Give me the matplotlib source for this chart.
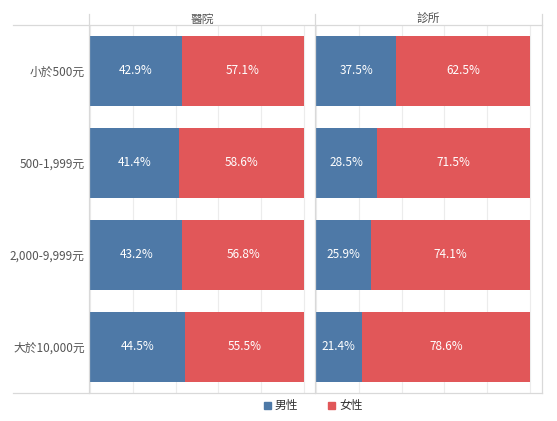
import matplotlib
matplotlib.use("Agg")
import matplotlib.pyplot as plt
from matplotlib.lines import Line2D
from matplotlib.patches import Rectangle

plt.rcParams['font.family'] = ['Noto Sans CJK TC', 'DejaVu Sans']

categories = ["小於500元", "500-1,999元", "2,000-9,999元", "大於10,000元"]
panels = ["醫院", "診所"]
male_hospital = [42.9, 41.4, 43.2, 44.5]
female_hospital = [57.1, 58.6, 56.8, 55.5]
male_clinic = [37.5, 28.5, 25.9, 21.4]
female_clinic = [62.5, 71.5, 74.1, 78.6]
series_names = ["男性", "女性"]

BLUE = "#4e79a7"
RED = "#e15759"
GRID = "#ececec"
LINE = "#d9d9d9"
TXT = "#555555"

W, H = 557, 421
fig = plt.figure(figsize=(W / 100, H / 100), dpi=100)

def fx(px):
    return px / W

def fy(py):
    return 1 - py / H

top_px, bot_px = 25, 393
ax_specs = [(89, 315, -0.47, 105.1), (315, 542, -0.47, 105.6)]
data = [(male_hospital, female_hospital), (male_clinic, female_clinic)]

ypos = list(range(len(categories)))
for i, ((l, r, x0, x1), (m, f)) in enumerate(zip(ax_specs, data)):
    ax = fig.add_axes([fx(l), fy(bot_px), fx(r) - fx(l), fy(top_px) - fy(bot_px)])
    ax.set_xlim(x0, x1)
    ax.set_ylim(len(categories) - 0.5, -0.5)
    for g in [0, 20, 40, 60, 80, 100]:
        ax.axvline(g, color=GRID, lw=0.8, zorder=0)
    ax.barh(ypos, m, height=0.76, color=BLUE, zorder=2)
    ax.barh(ypos, f, left=m, height=0.76, color=RED, zorder=2)
    for y, mv, fv in zip(ypos, m, f):
        ax.text(mv / 2, y, f"{mv:.1f}%", ha="center", va="center", color="white", fontsize=8.5, zorder=3)
        ax.text(mv + fv / 2, y, f"{fv:.1f}%", ha="center", va="center", color="white", fontsize=8.5, zorder=3)
    for s in ax.spines.values():
        s.set_visible(False)
    ax.set_xticks([])
    if i == 0:
        ax.set_yticks(ypos)
        ax.set_yticklabels(categories, fontsize=8.5, color=TXT)
        ax.tick_params(axis="y", length=0, pad=3)
    else:
        ax.set_yticks([])
    fig.text(fx((l + r) / 2), fy(19.5), panels[i], ha="center", va="center", fontsize=8.5, color=TXT)

# frame lines
for yy in (top_px, bot_px):
    fig.add_artist(Line2D([fx(13), fx(542)], [fy(yy), fy(yy)], color=LINE, lw=0.9))
for xx in (89, 315, 542):
    fig.add_artist(Line2D([fx(xx), fx(xx)], [fy(14), fy(bot_px)], color=LINE, lw=0.9))

# legend
leg_y = 405
for xs, col, name in [(267, BLUE, series_names[0]), (331, RED, series_names[1])]:
    fig.add_artist(Rectangle((fx(xs - 3.5), fy(leg_y + 3.5)), fx(7), 7 / H, color=col, transform=fig.transFigure))
    fig.text(fx(xs + 8), fy(leg_y), name, ha="left", va="center", fontsize=8.5, color="#333333")

fig.savefig("out.png", dpi=100)
